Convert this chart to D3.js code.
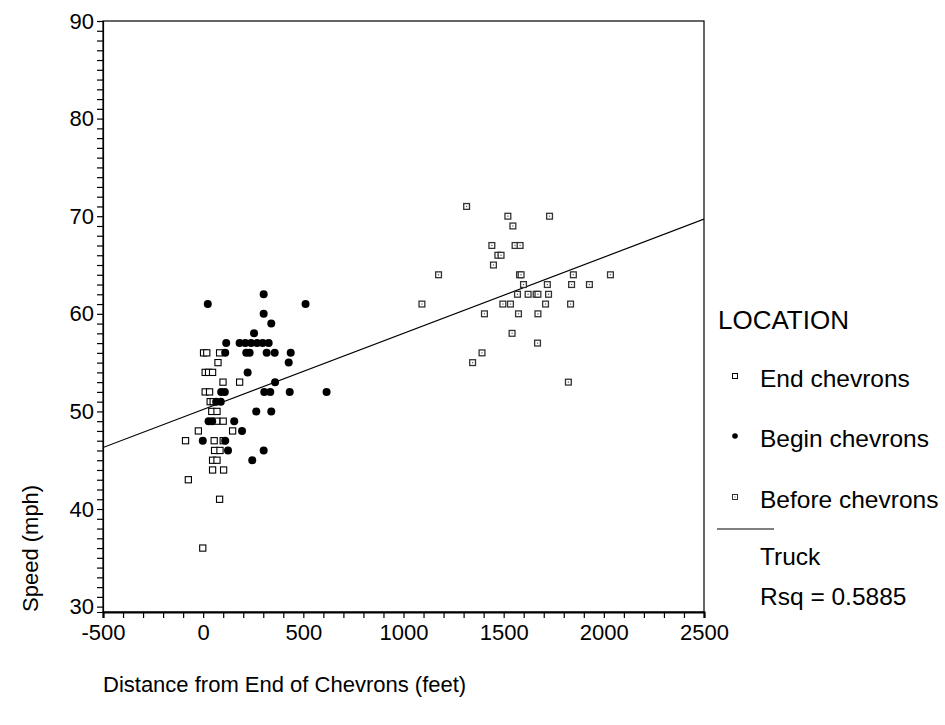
<!DOCTYPE html>
<html>
<head>
<meta charset="utf-8">
<script src="https://cdn.jsdelivr.net/npm/d3@7/dist/d3.min.js"></script>
<style>
  body { margin: 0; background: #fff; }
  text { font-family: "Liberation Sans", Arial, sans-serif; fill: #000; }
</style>
</head>
<body>
<svg id="chart" width="945" height="725"></svg>
<script>
// [distance from end of chevrons (ft), speed (mph)]
const endChevrons = [
  [2, 56], [18, 56], [82, 56],
  [74, 55],
  [10, 54], [27, 54], [47, 54],
  [99, 53], [182, 53],
  [10, 52], [32, 52],
  [35, 51], [50, 51],
  [43, 50], [69, 50],
  [68, 49], [100, 49],
  [-24, 48], [147, 48],
  [-88, 47], [55, 47], [100, 47],
  [57, 46], [84, 46],
  [47, 45], [69, 45],
  [47, 44], [102, 44],
  [-74, 43],
  [82, 41],
  [-2, 36]
];

const beginChevrons = [
  [302, 62],
  [23, 61], [511, 61],
  [302, 60],
  [340, 59],
  [254, 58],
  [115, 57], [182, 57], [210, 57], [239, 57], [269, 57], [297, 57], [327, 57],
  [110, 56], [215, 56], [232, 56], [317, 56], [357, 56], [437, 56],
  [427, 55],
  [222, 54],
  [359, 53],
  [90, 52], [108, 52], [305, 52], [335, 52], [432, 52], [616, 52],
  [65, 51], [88, 51],
  [265, 50], [340, 50],
  [27, 49], [45, 49], [155, 49],
  [194, 48],
  [-2, 47], [110, 47],
  [124, 46], [302, 46],
  [245, 45]
];

const beforeChevrons = [
  [1315, 71],
  [1521, 70], [1729, 70],
  [1546, 69],
  [1441, 67], [1557, 67], [1582, 67],
  [1471, 66], [1487, 66],
  [1449, 65],
  [1175, 64], [1579, 64], [1587, 64], [1848, 64], [2033, 64],
  [1599, 63], [1718, 63], [1839, 63], [1928, 63],
  [1569, 62], [1622, 62], [1662, 62], [1671, 62], [1724, 62],
  [1092, 61], [1496, 61], [1534, 61], [1709, 61], [1834, 61],
  [1404, 60], [1574, 60], [1671, 60],
  [1542, 58],
  [1669, 57],
  [1392, 56],
  [1345, 55],
  [1823, 53]
];

// Least-squares fit line for trucks
const fitIntercept = 50.2;
const fitSlope = 0.0078;
const rSquared = "0.5885";

const xMajorTicks = [-500, 0, 500, 1000, 1500, 2000, 2500];
const yMajorTicks = [30, 40, 50, 60, 70, 80, 90];
const legendLabels = ["End chevrons", "Begin chevrons", "Before chevrons"];

const svg = d3.select("#chart");
const plot = { left: 103, right: 704, top: 21, bottom: 612 };
const FONT = "Liberation Sans, Arial, sans-serif";

const x = d3.scaleLinear().domain([-500, 2500]).range([plot.left, plot.right]);
const y = d3.scaleLinear().domain([29.45, 90]).range([plot.bottom, plot.top]);

// Frame
svg.append("rect")
  .attr("x", plot.left).attr("y", plot.top)
  .attr("width", plot.right - plot.left).attr("height", plot.bottom - plot.top)
  .attr("fill", "none").attr("stroke", "#000").attr("stroke-width", 1.2);

// X axis: minor ticks every 100 ft, labels on the majors
const xAxis = d3.axisBottom(x)
  .tickValues(d3.range(-500, 2501, 100))
  .tickSize(6)
  .tickPadding(6)
  .tickFormat(d => xMajorTicks.includes(d) ? String(d) : "");
const gx = svg.append("g").attr("transform", `translate(0,${plot.bottom})`).call(xAxis);
gx.select(".domain").attr("stroke", "#000").attr("stroke-width", 2.2);
gx.selectAll(".tick line").attr("stroke", "#000").attr("stroke-width", 1.2);
gx.selectAll(".tick text").attr("font-size", 22).attr("font-family", FONT).attr("fill", "#000");

// Y axis: minor ticks every 1 mph
const yAxis = d3.axisLeft(y)
  .tickValues(d3.range(30, 91, 1))
  .tickSize(6)
  .tickPadding(3)
  .tickFormat(d => yMajorTicks.includes(d) ? String(d) : "");
const gy = svg.append("g").attr("transform", `translate(${plot.left},0)`).call(yAxis);
gy.select(".domain").attr("stroke", "#000").attr("stroke-width", 1.2);
gy.selectAll(".tick line").attr("stroke", "#000").attr("stroke-width", 1.2);
gy.selectAll(".tick text").attr("font-size", 22).attr("font-family", FONT).attr("fill", "#000");

// Axis titles
svg.append("text")
  .attr("transform", `translate(38,${plot.bottom}) rotate(-90)`)
  .attr("font-size", 22)
  .text("Speed (mph)");
svg.append("text")
  .attr("x", plot.left).attr("y", 692)
  .attr("font-size", 22)
  .text("Distance from End of Chevrons (feet)");

// Fit line
svg.append("clipPath").attr("id", "plotClip")
  .append("rect").attr("x", plot.left).attr("y", plot.top)
  .attr("width", plot.right - plot.left).attr("height", plot.bottom - plot.top);
const xd = x.domain();
svg.append("line")
  .attr("clip-path", "url(#plotClip)")
  .attr("x1", x(xd[0])).attr("y1", y(fitIntercept + fitSlope * xd[0]))
  .attr("x2", x(xd[1])).attr("y2", y(fitIntercept + fitSlope * xd[1]))
  .attr("stroke", "#000").attr("stroke-width", 1.2);

const marks = svg.append("g");

// Before chevrons: square with a centre dot
const beforeG = marks.selectAll("g.before").data(beforeChevrons).join("g")
  .attr("class", "before")
  .attr("transform", d => `translate(${x(d[0])},${y(d[1])})`);
beforeG.append("rect").attr("x", -2.9).attr("y", -2.9).attr("width", 5.8).attr("height", 5.8)
  .attr("fill", "#fff").attr("stroke", "#333").attr("stroke-width", 1.3);
beforeG.append("rect").attr("x", -0.6).attr("y", -0.6).attr("width", 1.2).attr("height", 1.2)
  .attr("fill", "#555");

// End chevrons: open square
marks.selectAll("rect.end").data(endChevrons).join("rect")
  .attr("class", "end")
  .attr("x", d => x(d[0]) - 3.1).attr("y", d => y(d[1]) - 3.1)
  .attr("width", 6.2).attr("height", 6.2)
  .attr("fill", "#fff").attr("stroke", "#000").attr("stroke-width", 1.1);

// Begin chevrons: filled circle
marks.selectAll("circle.begin").data(beginChevrons).join("circle")
  .attr("class", "begin")
  .attr("cx", d => x(d[0])).attr("cy", d => y(d[1]))
  .attr("r", 4).attr("fill", "#000");

// Legend
const lg = svg.append("g");
lg.append("text").attr("x", 718).attr("y", 329).attr("font-size", 26).text("LOCATION");
const markerY = [376, 436, 497];
legendLabels.forEach((lab, i) => {
  lg.append("text").attr("x", 760).attr("y", markerY[i] + 11).attr("font-size", 24.5).text(lab);
});
lg.append("rect").attr("x", 732.5).attr("y", markerY[0] - 2.5).attr("width", 5).attr("height", 5)
  .attr("fill", "#fff").attr("stroke", "#000").attr("stroke-width", 1);
lg.append("circle").attr("cx", 735).attr("cy", markerY[1]).attr("r", 2.8).attr("fill", "#000");
lg.append("rect").attr("x", 732.5).attr("y", markerY[2] - 2.5).attr("width", 5).attr("height", 5)
  .attr("fill", "#fff").attr("stroke", "#333").attr("stroke-width", 1);
lg.append("rect").attr("x", 734.5).attr("y", markerY[2] - 0.5).attr("width", 1).attr("height", 1).attr("fill", "#555");
lg.append("line").attr("x1", 717).attr("x2", 774).attr("y1", 529).attr("y2", 529)
  .attr("stroke", "#000").attr("stroke-width", 1);
lg.append("text").attr("x", 760).attr("y", 565).attr("font-size", 24.5).text("Truck");
lg.append("text").attr("x", 760).attr("y", 605).attr("font-size", 24.5).text("Rsq = " + rSquared);
</script>
</body>
</html>
